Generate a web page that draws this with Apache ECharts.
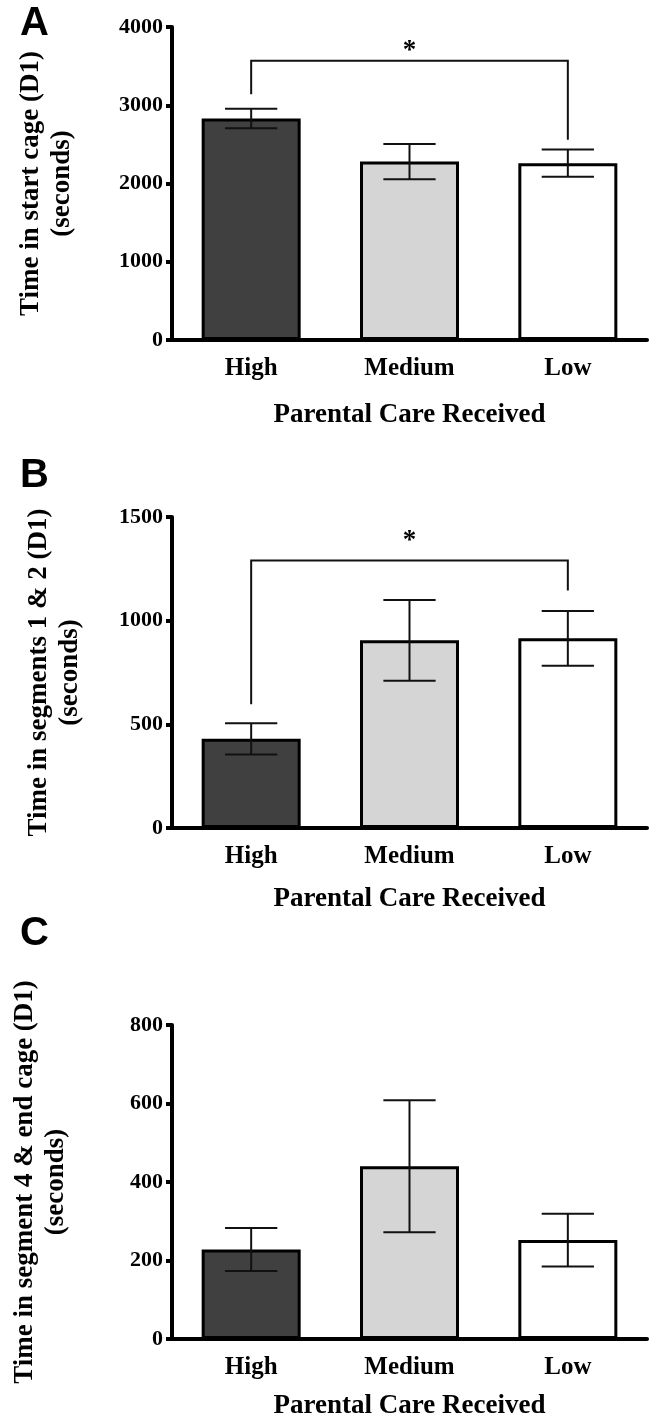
<!DOCTYPE html>
<html>
<head>
<meta charset="utf-8">
<script src="https://cdn.jsdelivr.net/npm/echarts@6/dist/echarts.min.js"></script>
<style>
  html, body { margin: 0; padding: 0; background: #fff; }
  #chart { width: 652px; height: 1417px; }
</style>
</head>
<body>
<div id="chart"></div>
<script>
// groups on the x axis
var categories = ['High', 'Medium', 'Low']
var barColors = ['#404040', '#d5d5d5', '#ffffff']

// A: time in start cage
var startCageMean = [2830, 2280, 2260]
var startCageErr = [125, 225, 175]
// B: time in segments 1 & 2
var seg12Mean = [430, 905, 915]
var seg12Err = [75, 195, 132]
// C: time in segment 4 & end cage
var seg4Mean = [228, 440, 252]
var seg4Err = [55, 168, 67]

// significance brackets: [from, to, bracket height, left leg end, right leg end, star height]
var sigA = [0, 2, 3570, 3140, 2560, 3690]
var sigB = [0, 2, 1290, 597, 1145, 1385]

var serif = 'Liberation Serif'
var ink = '#000'

var panels = [
  { letter: 'A', mean: startCageMean, err: startCageErr, sig: sigA, max: 4000, step: 1000,
    top: 27, height: 313, title: 'Time in start cage (D1)\n(seconds)', gap: 94, xGap: 62 },
  { letter: 'B', mean: seg12Mean, err: seg12Err, sig: sigB, max: 1500, step: 500,
    top: 517, height: 311, title: 'Time in segments 1 & 2 (D1)\n(seconds)', gap: 86, xGap: 58 },
  { letter: 'C', mean: seg4Mean, err: seg4Err, sig: null, max: 800, step: 200,
    top: 1025, height: 314, title: 'Time in segment 4 & end cage (D1)\n(seconds)', gap: 100, xGap: 54 }
]
var letterY = [25, 477, 935]

function renderErr(params, api) {
  var x = api.value(0), m = api.value(1), e = api.value(2)
  var top = api.coord([x, m + e])
  var bot = api.coord([x, m - e])
  var half = api.size([1, 0])[0] * 0.165
  var st = { stroke: '#111', lineWidth: 2 }
  return {
    type: 'group',
    children: [
      { type: 'line', shape: { x1: top[0], y1: top[1], x2: bot[0], y2: bot[1] }, style: st },
      { type: 'line', shape: { x1: top[0] - half, y1: top[1], x2: top[0] + half, y2: top[1] }, style: st },
      { type: 'line', shape: { x1: bot[0] - half, y1: bot[1], x2: bot[0] + half, y2: bot[1] }, style: st }
    ]
  }
}

function renderSig(params, api) {
  var a = api.value(0), b = api.value(1)
  var l = api.coord([a, api.value(3)])
  var lt = api.coord([a, api.value(2)])
  var rt = api.coord([b, api.value(2)])
  var r = api.coord([b, api.value(4)])
  var star = api.coord([(a + b) / 2, api.value(5)])
  return {
    type: 'group',
    children: [
      { type: 'polyline', shape: { points: [l, lt, rt, r] }, style: { stroke: '#111', lineWidth: 2, fill: null } },
      { type: 'text', x: star[0], y: star[1],
        style: { text: '*', font: 'bold 27px "' + serif + '"', fill: ink, align: 'center', verticalAlign: 'middle' } }
    ]
  }
}

var grid = [], xAxis = [], yAxis = [], series = [], graphic = []

panels.forEach(function (p, i) {
  grid.push({ left: 172, right: 5, top: p.top, height: p.height, outerBoundsMode: 'none' })
  xAxis.push({
    type: 'category',
    gridIndex: i,
    data: categories,
    name: 'Parental Care Received',
    nameLocation: 'middle',
    nameGap: p.xGap,
    nameTextStyle: { fontFamily: serif, fontWeight: 'bold', fontSize: 27, color: ink },
    axisLine: { lineStyle: { color: ink, width: 4 } },
    axisTick: { alignWithLabel: true, length: 8, lineStyle: { color: ink, width: 4 } },
    axisLabel: { fontFamily: serif, fontWeight: 'bold', fontSize: 25, color: ink, margin: 16 },
    splitLine: { show: false }
  })
  yAxis.push({
    type: 'value',
    gridIndex: i,
    min: 0,
    max: p.max,
    interval: p.step,
    name: p.title,
    nameLocation: 'middle',
    nameRotate: 90,
    nameGap: p.gap,
    nameTextStyle: { fontFamily: serif, fontWeight: 'bold', fontSize: 27, lineHeight: 31, color: ink },
    axisLine: { show: true, lineStyle: { color: ink, width: 4 } },
    axisTick: { show: true, length: 6, lineStyle: { color: ink, width: 4 } },
    axisLabel: {
      fontFamily: serif, fontWeight: 'bold', fontSize: 22, color: ink, margin: 9,
      formatter: function (v) { return String(v) }
    },
    splitLine: { show: false }
  })
  series.push({
    type: 'bar',
    xAxisIndex: i,
    yAxisIndex: i,
    barWidth: 99,
    data: p.mean.map(function (v, k) {
      return { value: v, itemStyle: { color: barColors[k], borderColor: ink, borderWidth: 3 } }
    }),
    silent: true
  })
  series.push({
    type: 'custom',
    xAxisIndex: i,
    yAxisIndex: i,
    renderItem: renderErr,
    data: p.mean.map(function (v, k) { return [k, v, p.err[k]] }),
    z: 5,
    silent: true
  })
  if (p.sig) {
    series.push({
      type: 'custom',
      xAxisIndex: i,
      yAxisIndex: i,
      renderItem: renderSig,
      data: [p.sig],
      z: 5,
      silent: true
    })
  }
  graphic.push({
    type: 'text',
    left: 20,
    top: letterY[i] - 21,
    style: { text: p.letter, font: 'bold 40px "Liberation Sans"', fill: ink }
  })
})

var chart = echarts.init(document.getElementById('chart'))
chart.setOption({
  animation: false,
  backgroundColor: '#fff',
  grid: grid,
  xAxis: xAxis,
  yAxis: yAxis,
  series: series,
  graphic: graphic
})
</script>
</body>
</html>
